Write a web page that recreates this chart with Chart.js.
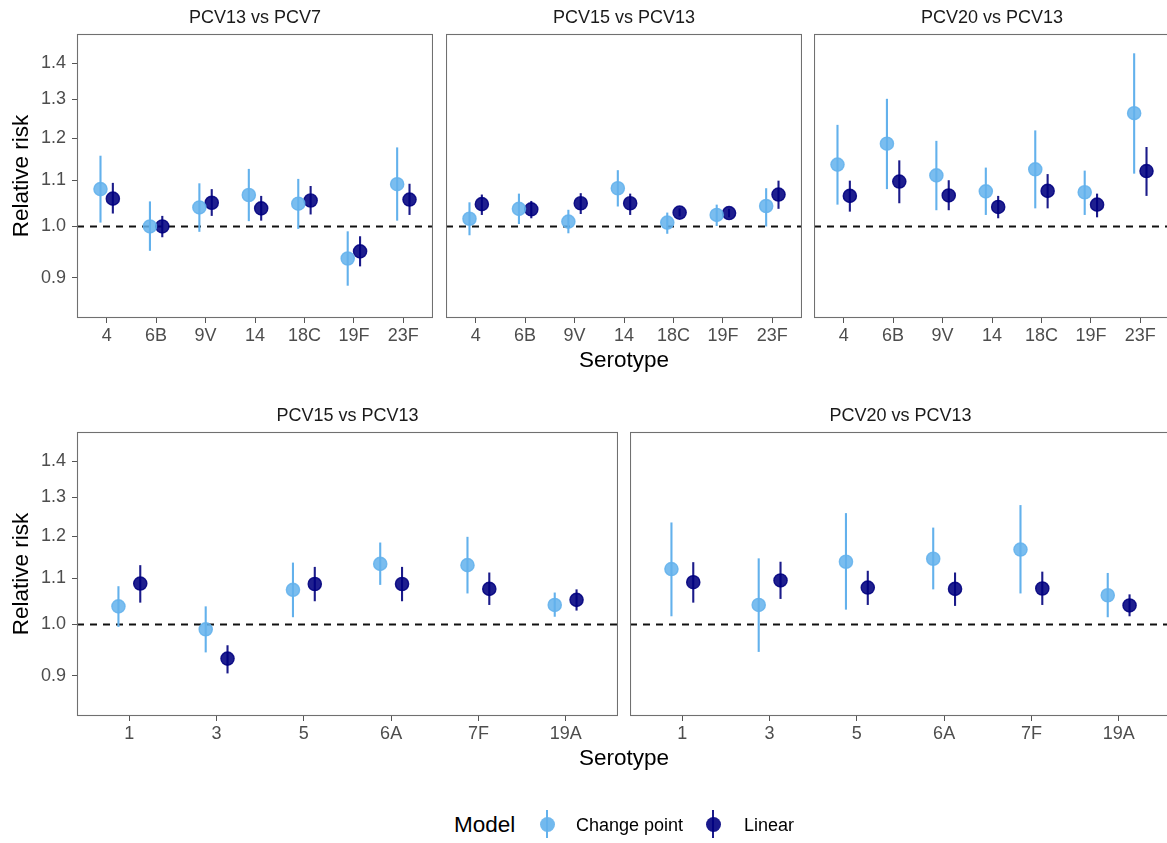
<!DOCTYPE html>
<html>
<head>
<meta charset="utf-8">
<script src="https://cdn.jsdelivr.net/npm/chart.js@4.4.1/dist/chart.umd.min.js"></script>
<style>
html,body{margin:0;padding:0;background:#fff;overflow:hidden;width:1167px;height:843px;}
body{position:relative;font-family:'Liberation Sans',Arial,Helvetica,sans-serif;}
canvas{position:absolute;display:block;}
.txt{position:absolute;white-space:nowrap;color:#000;}
.key{position:absolute;width:20px;height:30px;}
.key .ln{position:absolute;left:9px;top:1px;width:2px;height:28px;}
.key .dot{position:absolute;left:2.5px;top:7.5px;width:15px;height:15px;border-radius:50%;}
</style>
</head>
<body>
<canvas id="p1" width="433" height="358" style="left:0px;top:0px"></canvas>
<canvas id="p2" width="356" height="358" style="left:446px;top:0px"></canvas>
<canvas id="p3" width="356" height="358" style="left:814px;top:0px"></canvas>
<canvas id="p4" width="618" height="358" style="left:0px;top:398px"></canvas>
<canvas id="p5" width="541" height="358" style="left:630px;top:398px"></canvas>

<div class="txt" style="left:524px;width:200px;text-align:center;top:345px;font-size:22.5px;line-height:30px">Serotype</div>
<div class="txt" style="left:524px;width:200px;text-align:center;top:743px;font-size:22.5px;line-height:30px">Serotype</div>

<div class="txt" style="left:454px;top:810px;font-size:22.5px;line-height:30px">Model</div>
<div class="key" style="left:537px;top:809px"><div class="ln" style="background:#63B1EC"></div><div class="dot" style="background:rgba(99,177,236,0.9)"></div></div>
<div class="txt" style="left:576px;top:813px;font-size:18px;line-height:24px">Change point</div>
<div class="key" style="left:703px;top:809px"><div class="ln" style="background:#1B1B8A"></div><div class="dot" style="background:rgba(0,0,128,0.9)"></div></div>
<div class="txt" style="left:744px;top:813px;font-size:18px;line-height:24px">Linear</div>

<script>
// ---------- categories ----------
const serotypesTop = ['4','6B','9V','14','18C','19F','23F'];
const serotypesBottom = ['1','3','5','6A','7F','19A'];
const yTickValues = [0.9, 1.0, 1.1, 1.2, 1.3, 1.4];

// ---------- PCV13 vs PCV7 (top) ----------
const cp13v7Est = [1.080, 1.000, 1.040, 1.067, 1.048, 0.936, 1.091];
const cp13v7Lo  = [1.008, 0.951, 0.989, 1.011, 0.995, 0.885, 1.012];
const cp13v7Hi  = [1.157, 1.053, 1.093, 1.126, 1.103, 0.990, 1.177];
const lin13v7Est = [1.059, 1.000, 1.050, 1.038, 1.055, 0.950, 1.057];
const lin13v7Lo  = [1.027, 0.978, 1.022, 1.012, 1.025, 0.921, 1.024];
const lin13v7Hi  = [1.094, 1.022, 1.080, 1.065, 1.087, 0.980, 1.092];

// ---------- PCV15 vs PCV13 (top) ----------
const cp15v13aEst = [1.016, 1.037, 1.010, 1.082, 1.008, 1.024, 1.043];
const cp15v13aLo  = [0.982, 1.005, 0.986, 1.042, 0.985, 1.001, 1.000];
const cp15v13aHi  = [1.051, 1.070, 1.035, 1.123, 1.029, 1.046, 1.082];
const lin15v13aEst = [1.047, 1.036, 1.049, 1.049, 1.029, 1.028, 1.068];
const lin15v13aLo  = [1.024, 1.017, 1.026, 1.024, 1.021, 1.019, 1.037];
const lin15v13aHi  = [1.068, 1.054, 1.071, 1.070, 1.038, 1.037, 1.099];

// ---------- PCV20 vs PCV13 (top) ----------
const cp20v13aEst = [1.136, 1.186, 1.111, 1.075, 1.125, 1.073, 1.263];
const cp20v13aLo  = [1.046, 1.080, 1.034, 1.024, 1.038, 1.024, 1.115];
const cp20v13aHi  = [1.233, 1.301, 1.193, 1.129, 1.219, 1.122, 1.429];
const lin20v13aEst = [1.065, 1.097, 1.066, 1.041, 1.076, 1.046, 1.121];
const lin20v13aLo  = [1.031, 1.049, 1.034, 1.017, 1.038, 1.019, 1.065];
const lin20v13aHi  = [1.099, 1.146, 1.100, 1.065, 1.114, 1.070, 1.178];

// ---------- PCV15 vs PCV13 (bottom) ----------
const cp15v13bEst = [1.038, 0.990, 1.074, 1.133, 1.130, 1.041];
const cp15v13bLo  = [0.995, 0.944, 1.015, 1.085, 1.066, 1.016];
const cp15v13bHi  = [1.082, 1.038, 1.136, 1.184, 1.198, 1.068];
const lin15v13bEst = [1.088, 0.932, 1.087, 1.087, 1.076, 1.052];
const lin15v13bLo  = [1.046, 0.904, 1.049, 1.049, 1.041, 1.029];
const lin15v13bHi  = [1.130, 0.958, 1.126, 1.126, 1.113, 1.075];

// ---------- PCV20 vs PCV13 (bottom) ----------
const cp20v13bEst = [1.121, 1.041, 1.138, 1.145, 1.167, 1.062];
const cp20v13bLo  = [1.017, 0.945, 1.031, 1.075, 1.066, 1.015];
const cp20v13bHi  = [1.234, 1.146, 1.258, 1.221, 1.279, 1.112];
const lin20v13bEst = [1.091, 1.095, 1.079, 1.076, 1.077, 1.040];
const lin20v13bLo  = [1.046, 1.054, 1.041, 1.039, 1.041, 1.017];
const lin20v13bHi  = [1.137, 1.138, 1.117, 1.113, 1.115, 1.064];

// ---------- style ----------
const FONT = "'Liberation Sans', Arial, Helvetica, sans-serif";
const CP_LINE = '#63B1EC', CP_PT = 'rgba(99,177,236,0.85)';
const LIN_LINE = '#1B1B8A', LIN_PT = 'rgba(0,0,128,0.88)';
const DODGE = 0.125;
const Y_MIN = 0.828, Y_MAX = 1.487;

const panelDecor = {
  id: 'panelDecor',
  beforeDatasetsDraw(chart) {
    const ctx = chart.ctx, a = chart.chartArea, y = chart.scales.y;
    const y1 = y.getPixelForValue(1);
    ctx.save();
    ctx.strokeStyle = '#111';
    ctx.lineWidth = 2;
    ctx.setLineDash([7, 6]);
    ctx.beginPath();
    ctx.moveTo(a.left, y1);
    ctx.lineTo(a.right, y1);
    ctx.stroke();
    ctx.restore();
    chart.data.datasets.forEach((ds, di) => {
      const meta = chart.getDatasetMeta(di);
      ctx.save();
      ctx.strokeStyle = ds.barColor;
      ctx.lineWidth = 2.1;
      meta.data.forEach((pt, i) => {
        ctx.beginPath();
        ctx.moveTo(pt.x, y.getPixelForValue(ds.lo[i]));
        ctx.lineTo(pt.x, y.getPixelForValue(ds.hi[i]));
        ctx.stroke();
      });
      ctx.restore();
    });
  },
  afterDraw(chart) {
    const ctx = chart.ctx, a = chart.chartArea;
    ctx.save();
    ctx.strokeStyle = '#707070';
    ctx.lineWidth = 1.1;
    ctx.strokeRect(Math.round(a.left) + 0.5, Math.round(a.top) + 0.5,
                   Math.round(a.right - a.left) - 1, Math.round(a.bottom - a.top) - 1);
    ctx.restore();
  }
};

function makePanel(id, title, cats, cp, lin, showY) {
  const pts = (est, off) => est.map((v, i) => ({ x: i + off, y: v }));
  new Chart(document.getElementById(id), {
    type: 'scatter',
    data: {
      datasets: [
        { label: 'Change point', data: pts(cp[0], -DODGE), lo: cp[1], hi: cp[2], barColor: CP_LINE,
          backgroundColor: CP_PT, borderColor: CP_PT, pointRadius: 6.6, borderWidth: 1.4 },
        { label: 'Linear', data: pts(lin[0], DODGE), lo: lin[1], hi: lin[2], barColor: LIN_LINE,
          backgroundColor: LIN_PT, borderColor: LIN_PT, pointRadius: 6.6, borderWidth: 1.4 }
      ]
    },
    plugins: [panelDecor],
    options: {
      responsive: false,
      animation: false,
      events: [],
      devicePixelRatio: 1,
      layout: { padding: 0, autoPadding: false },
      plugins: {
        legend: { display: false },
        tooltip: { enabled: false },
        title: {
          display: true, text: title, fullSize: false, color: '#1A1A1A',
          font: { family: FONT, size: 18, weight: 'normal', lineHeight: '20px' },
          padding: { top: 8, bottom: 6 }
        }
      },
      scales: {
        x: {
          type: 'linear', bounds: 'data', min: -0.6, max: cats.length - 0.4,
          afterBuildTicks: s => { s.ticks = cats.map((c, i) => ({ value: i })); },
          afterFit: s => { s.height = 40; s.paddingLeft = 0; s.paddingRight = 0; },
          ticks: { autoSkip: false, maxRotation: 0, padding: 2, color: '#4D4D4D',
                   font: { family: FONT, size: 18 }, callback: v => cats[v] },
          grid: { drawOnChartArea: false, drawTicks: true, tickLength: 5, color: '#555', lineWidth: 1 },
          border: { display: false }
        },
        y: {
          type: 'logarithmic', display: showY, bounds: 'data', min: Y_MIN, max: Y_MAX,
          afterBuildTicks: s => { s.ticks = yTickValues.map(v => ({ value: v })); },
          afterFit: s => { if (showY) s.width = 77; s.paddingTop = 0; s.paddingBottom = 0; },
          ticks: { padding: 6, color: '#4D4D4D', font: { family: FONT, size: 18 },
                   callback: v => Number(v).toFixed(1) },
          grid: { drawOnChartArea: false, drawTicks: true, tickLength: 5, color: '#555', lineWidth: 1 },
          border: { display: false },
          title: { display: true, text: 'Relative risk', color: '#000',
                   font: { family: FONT, size: 22.5, lineHeight: 1.2 }, padding: { top: 8.5, bottom: 0 } }
        }
      }
    }
  });
}

makePanel('p1', 'PCV13 vs PCV7', serotypesTop,
  [cp13v7Est, cp13v7Lo, cp13v7Hi], [lin13v7Est, lin13v7Lo, lin13v7Hi], true);
makePanel('p2', 'PCV15 vs PCV13', serotypesTop,
  [cp15v13aEst, cp15v13aLo, cp15v13aHi], [lin15v13aEst, lin15v13aLo, lin15v13aHi], false);
makePanel('p3', 'PCV20 vs PCV13', serotypesTop,
  [cp20v13aEst, cp20v13aLo, cp20v13aHi], [lin20v13aEst, lin20v13aLo, lin20v13aHi], false);
makePanel('p4', 'PCV15 vs PCV13', serotypesBottom,
  [cp15v13bEst, cp15v13bLo, cp15v13bHi], [lin15v13bEst, lin15v13bLo, lin15v13bHi], true);
makePanel('p5', 'PCV20 vs PCV13', serotypesBottom,
  [cp20v13bEst, cp20v13bLo, cp20v13bHi], [lin20v13bEst, lin20v13bLo, lin20v13bHi], false);
</script>
</body>
</html>
